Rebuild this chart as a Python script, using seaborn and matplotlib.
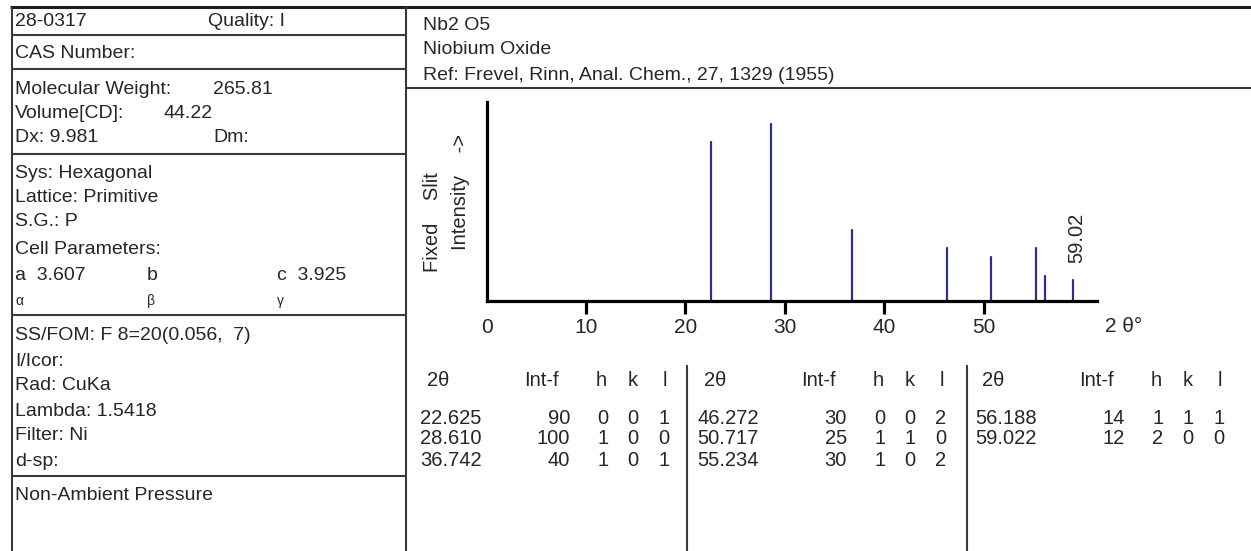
import matplotlib
matplotlib.use("Agg")
import matplotlib.pyplot as plt
import seaborn as sns
import pandas as pd

# ---------------- data ----------------
two_theta = [22.625, 28.610, 36.742, 46.272, 50.717, 55.234, 56.188, 59.022]
intensity = [90, 100, 40, 30, 25, 30, 14, 12]
h_idx = [0, 1, 1, 0, 1, 1, 1, 2]
k_idx = [0, 0, 0, 0, 1, 0, 1, 0]
l_idx = [1, 0, 1, 2, 0, 2, 1, 0]
x_ticks = [0, 10, 20, 30, 40, 50]
labelled_peak = 59.022

card_number = "28-0317"
quality = "Quality: I"
formula = "Nb2 O5"
name = "Niobium Oxide"
reference = "Ref: Frevel, Rinn, Anal. Chem., 27, 1329 (1955)"

# ---------------- style ----------------
sns.set_theme(style="white")
plt.rcParams["font.family"] = ["Liberation Sans", "DejaVu Sans"]
TXT = "#262626"
LINE = "#3a3a3a"

W, H = 1251, 551
fig = plt.figure(figsize=(W / 100, H / 100), dpi=100)

# background axes in pixel coordinates for the card frame & text
bg = fig.add_axes([0, 0, 1, 1], zorder=0)
bg.set_xlim(0, W)
bg.set_ylim(H, 0)
bg.axis("off")

def hline(y, x0, x1, lw=1.5, c=LINE):
    bg.plot([x0, x1], [y, y], color=c, lw=lw, solid_capstyle="butt")

def vline(x, y0, y1, lw=1.5, c=LINE):
    bg.plot([x, x], [y0, y1], color=c, lw=lw, solid_capstyle="butt")

def txt(x, y, s, size=14, **kw):
    bg.text(x, y, s, fontsize=size, color=TXT, va="center", ha=kw.pop("ha", "left"), **kw)

# frame
hline(7, 10, W, lw=2.2, c="#1e1e1e")
vline(12, 7, H)
vline(406, 7, H)
for y in [35, 69, 154, 315, 476]:
    hline(y, 12, 406)
hline(88, 406, W)
vline(687, 365, H)
vline(967, 365, H)

# left panel text
txt(15, 22, card_number)
txt(208, 22, quality)
txt(15, 54, "CAS Number:")
txt(15, 89, "Molecular Weight:")
txt(213, 89, "265.81")
txt(15, 114, "Volume[CD]:")
txt(163, 114, "44.22")
txt(15, 138, "Dx: 9.981")
txt(213, 138, "Dm:")
txt(15, 173, "Sys: Hexagonal")
txt(15, 197, "Lattice: Primitive")
txt(15, 222, "S.G.: P")
txt(15, 249, "Cell Parameters:")
txt(15, 276, "a  3.607")
txt(147, 276, "b")
txt(277, 276, "c  3.925")
txt(15, 301, "α", size=10)
txt(147, 301, "β", size=10)
txt(277, 301, "γ", size=10)
txt(15, 335, "SS/FOM: F 8=20(0.056,  7)")
txt(15, 361, "I/Icor:")
txt(15, 386, "Rad: CuKa")
txt(15, 411, "Lambda: 1.5418")
txt(15, 436, "Filter: Ni")
txt(15, 462, "d-sp:")
txt(15, 495, "Non-Ambient Pressure")

# right header
txt(423, 25, formula)
txt(423, 50, name)
txt(423, 75, reference)

# y-label and x-label of the pattern
bg.text(433, 272, "Fixed    Slit", rotation=90, ha="center", va="bottom",
        fontsize=14.5, color=TXT)
bg.text(460, 250, "Intensity    ->", rotation=90, ha="center", va="bottom",
        fontsize=14.5, color=TXT)
txt(1105, 327, "2 θ°", size=15)

# table
col_base = [420, 697, 975]
row_y = [418, 439, 461]
hdr_y = 380
for c, base in enumerate(col_base):
    txt(base + 7, hdr_y, "2θ", size=14.5)
    txt(base + 104, hdr_y, "Int-f", size=14.5)
    txt(base + 181, hdr_y, "h", size=14.5, ha="center")
    txt(base + 213, hdr_y, "k", size=14.5, ha="center")
    txt(base + 245, hdr_y, "l", size=14.5, ha="center")
    for r in range(3):
        i = c * 3 + r
        if i >= len(two_theta):
            break
        y = row_y[r]
        txt(base, y, f"{two_theta[i]:.3f}", size=14.5)
        txt(base + 150, y, f"{intensity[i]}", size=14.5, ha="right")
        txt(base + 183, y, f"{h_idx[i]}", size=14.5, ha="center")
        txt(base + 213, y, f"{k_idx[i]}", size=14.5, ha="center")
        txt(base + 244, y, f"{l_idx[i]}", size=14.5, ha="center")

# ---------------- pattern axes ----------------
x0_px, x1_px, yb_px, yt_px = 486.5, 1097, 301, 102
ax = fig.add_axes([x0_px / W, 1 - yb_px / H, (x1_px - x0_px) / W, (yb_px - yt_px) / H],
                  zorder=2)
ax.patch.set_alpha(0)

rows = []
for j, (x, y) in enumerate(zip(two_theta, intensity)):
    rows.append({"peak": j, "two_theta": x, "intensity": 0})
    rows.append({"peak": j, "two_theta": x, "intensity": y})
df = pd.DataFrame(rows)
sns.lineplot(data=df, x="two_theta", y="intensity", units="peak", estimator=None,
             color="#2e2e92", lw=1.6, ax=ax, legend=False)

ax.set_xlim(0, 61.4)
ax.set_ylim(0, 112.4)
sns.despine(ax=ax)
for s in ["left", "bottom"]:
    ax.spines[s].set_color("black")
    ax.spines[s].set_linewidth(2.3)
ax.set_xticks(x_ticks)
ax.set_xticklabels([str(t) for t in x_ticks])
ax.set_yticks([])
ax.tick_params(axis="x", direction="out", length=9.5, width=2.3, color="black",
               labelsize=15, labelcolor=TXT, pad=3, bottom=True)
ax.xaxis.get_major_ticks()[0].tick1line.set_visible(False)
ax.set_xlabel("")
ax.set_ylabel("")

lbl_i = two_theta.index(labelled_peak)
ax.annotate(f"{labelled_peak:.2f}", xy=(labelled_peak, intensity[lbl_i]),
            xytext=(2.5, 12), textcoords="offset points", rotation=90,
            ha="center", va="bottom", fontsize=14.5, color=TXT)

fig.savefig("out.png", dpi=100, facecolor="white")
